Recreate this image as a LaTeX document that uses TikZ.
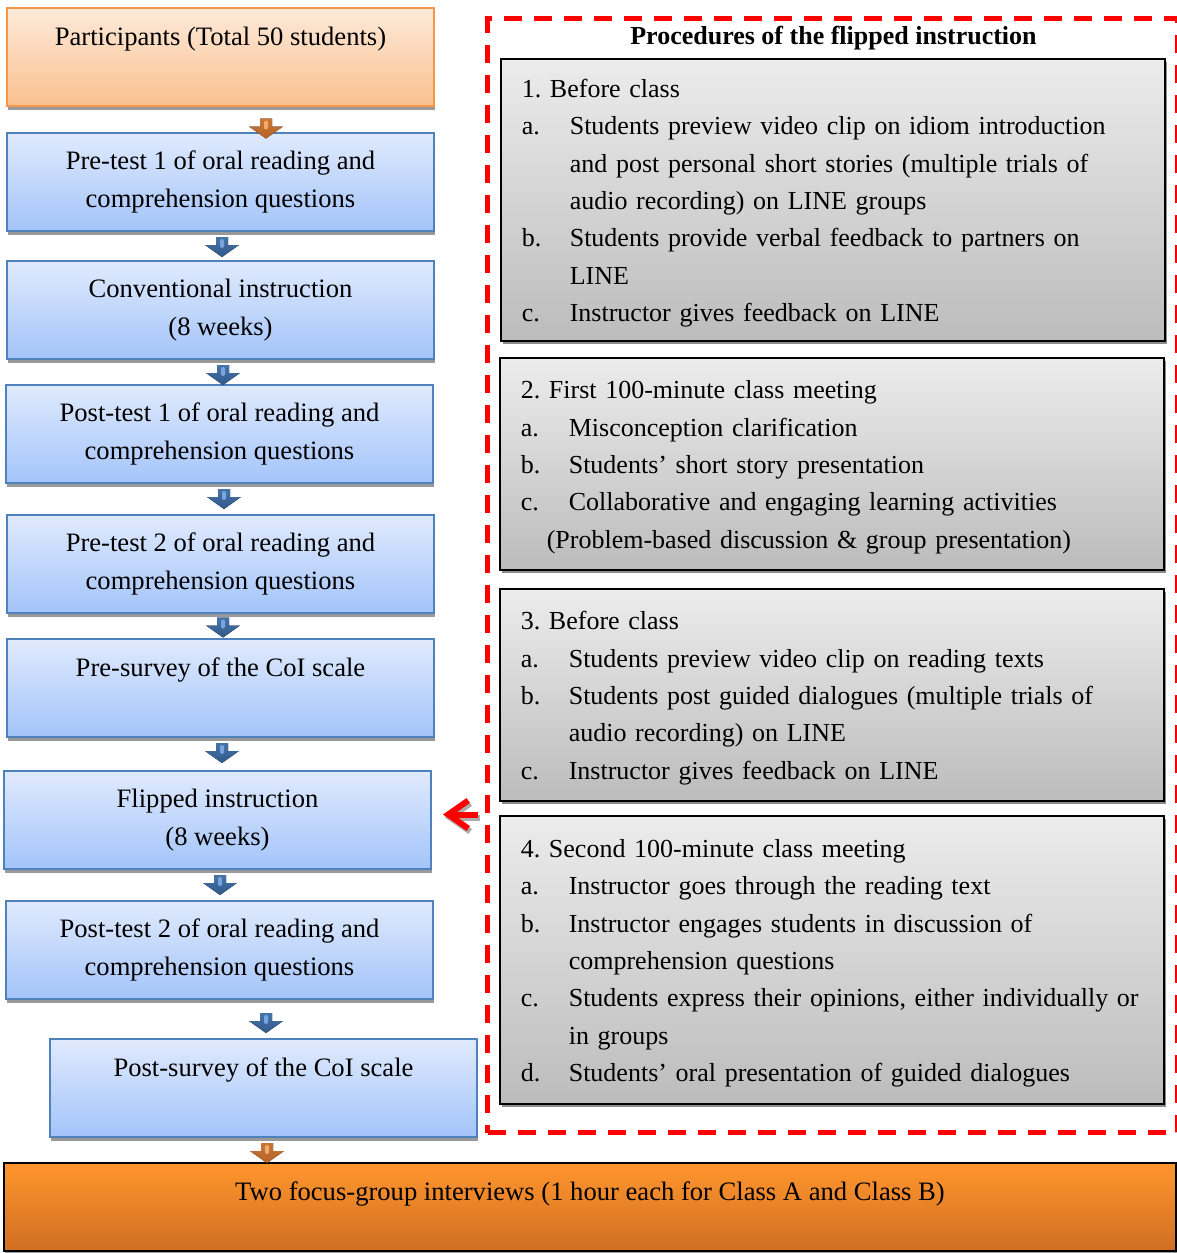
\documentclass[tikz,border=0pt]{standalone}
\usepackage{fontspec}
\setmainfont{Liberation Serif}
\usepackage{tikz}
\usetikzlibrary{arrows.meta,shapes,positioning,shadows,calc}
\frenchspacing
\definecolor{stepblue}{RGB}{79,129,189}
\definecolor{steplightblue}{RGB}{224,234,253}
\definecolor{stepmidblue}{RGB}{163,196,250}
\definecolor{steporange}{RGB}{247,150,70}
\definecolor{steplightorange}{RGB}{253,234,218}
\definecolor{stepmidorange}{RGB}{250,192,143}
\definecolor{arrowbluetop}{RGB}{70,116,170}
\definecolor{arrowbluebottom}{RGB}{50,88,138}
\definecolor{arrowbluestripe}{RGB}{120,165,225}
\definecolor{arroworangetop}{RGB}{200,118,52}
\definecolor{arroworangebottom}{RGB}{182,100,40}
\definecolor{arroworangestripe}{RGB}{240,170,110}
\definecolor{focustop}{RGB}{255,150,45}
\definecolor{focusbottom}{RGB}{208,110,35}
\definecolor{proclight}{RGB}{236,236,236}
\definecolor{procdark}{RGB}{188,188,188}
\definecolor{framered}{RGB}{255,0,0}
\newcommand{\lsize}{\fontsize{13.3}{19}\selectfont}
\newcommand{\rsize}{\fontsize{13}{18.7}\selectfont}
\newcommand{\itm}[2]{\makebox[24pt][l]{#1}\mbox{#2}}
\tikzstyle{stepbox} = [rectangle, anchor=north west, minimum width=213.5pt, minimum height=49pt, inner sep=0pt, align=center, font=\lsize, draw=stepblue, line width=1pt, top color=steplightblue, bottom color=stepmidblue, drop shadow={shadow xshift=0.5pt, shadow yshift=-2pt, fill=gray!80, opacity=1}, execute at begin node={\rule{0pt}{13pt}}]
\tikzstyle{oneline} = [text height=9pt, text depth=21pt]
\tikzstyle{procbox} = [rectangle, anchor=north west, minimum width=332pt, inner xsep=10.5pt, inner ysep=0pt, text width=311pt, align=left, font=\rsize, draw=black, line width=0.8pt, top color=proclight, bottom color=procdark, drop shadow={shadow xshift=1pt, shadow yshift=-1.5pt, fill=gray!90, opacity=1}, execute at begin node={\rule{0pt}{12.5pt}}]
\tikzstyle{framebox} = [rectangle, anchor=north west, minimum width=345pt, minimum height=557pt, draw=framered, line width=2.5pt, dash pattern=on 9pt off 6pt]
\tikzstyle{redarrow} = [framered, line width=3pt, -{Straight Barb[length=10pt, width=14pt]}]
\tikzstyle{redshadow} = [redarrow, draw=gray!65]
\tikzset{pics/flowarrow/.style={code={
  \fill[top color=arrow#1top, bottom color=arrow#1bottom] (-6,-10) -- (6,-10) -- (6,-2) -- (17,-2) -- (0,10) -- (-17,-2) -- (-6,-2) -- cycle;
  \fill[arrow#1stripe, rounded corners=1pt] (-2,-8) rectangle (2,1);
}}}

\begin{document}
\begin{tikzpicture}[x=0.5pt, y=-0.5pt]
\useasboundingbox (0,0) rectangle (1177,1253);

% Study steps
\node[stepbox, oneline, draw=steporange, top color=steplightorange, bottom color=stepmidorange] (part) at (6,7) {Participants (Total 50 students)};
\node[stepbox] (pre1) at (6,132) {Pre-test 1 of oral reading and\\comprehension questions};
\node[stepbox] (conv) at (6,260) {Conventional instruction\\(8 weeks)};
\node[stepbox] (post1) at (5,384) {Post-test 1 of oral reading and\\comprehension questions};
\node[stepbox] (pre2) at (6,514) {Pre-test 2 of oral reading and\\comprehension questions};
\node[stepbox, oneline] (presv) at (6,638) {Pre-survey of the CoI scale};
\node[stepbox] (flip) at (3,770) {Flipped instruction\\(8 weeks)};
\node[stepbox] (post2) at (5,900) {Post-test 2 of oral reading and\\comprehension questions};
\node[stepbox, oneline] (postsv) at (49,1038) {Post-survey of the CoI scale};
\node[stepbox, minimum width=586pt, minimum height=44pt, text height=9pt, text depth=16pt, draw=black, top color=focustop, bottom color=focusbottom, drop shadow={opacity=0}] (focus) at (3,1162) {Two focus-group interviews (1 hour each for Class A and Class B)};

% Block arrows between steps
\foreach \a/\b/\dx/\dy/\col in {part/pre1/45.5/9/orange, pre1/conv/1.5/1/blue, conv/post1/2.5/3/blue, post1/pre2/4.5/0/blue, pre2/presv/2.5/1.5/blue, presv/flip/1.5/-1/blue, flip/post2/2.5/0/blue, post2/postsv/46.5/4/blue, postsv/focus/3.5/3/orange}
  \pic at ($(\a.south)!0.5!(\a.south |- \b.north)+(\dx,\dy)$) {flowarrow=\col};

% Procedures
\node[framebox] (frame) at (485,16) {};
\node[font=\rsize\bfseries] (title) at ($(frame.north)+(1,22)$) {Procedures of the flipped instruction};

\node[procbox, minimum height=141pt] (before1) at (500,58) {1. Before class\\
\itm{a.}{Students preview video clip on idiom introduction}\\
\itm{}{and post personal short stories (multiple trials of}\\
\itm{}{audio recording) on LINE groups}\\
\itm{b.}{Students provide verbal feedback to partners on}\\
\itm{}{LINE}\\
\itm{c.}{Instructor gives feedback on LINE}};

\node[procbox, minimum height=106pt] (meet1) at (499,357) {2. First 100-minute class meeting\\
\itm{a.}{Misconception clarification}\\
\itm{b.}{Students' short story presentation}\\
\itm{c.}{Collaborative and engaging learning activities}\\
\hspace*{13pt}\mbox{(Problem-based discussion \& group presentation)}};

\node[procbox, minimum height=106pt] (before2) at (499,588) {3. Before class\\
\itm{a.}{Students preview video clip on reading texts}\\
\itm{b.}{Students post guided dialogues (multiple trials of}\\
\itm{}{audio recording) on LINE}\\
\itm{c.}{Instructor gives feedback on LINE}};

\node[procbox, minimum height=144pt] (meet2) at (499,815) {4. Second 100-minute class meeting\\
\itm{a.}{Instructor goes through the reading text}\\
\itm{b.}{Instructor engages students in discussion of}\\
\itm{}{comprehension questions}\\
\itm{c.}{Students express their opinions, either individually or}\\
\itm{}{in groups}\\
\itm{d.}{Students' oral presentation of guided dialogues}};

% Link to flipped instruction
\coordinate (rtail) at ([yshift=2.75pt]frame.west |- flip.east);
\draw[redshadow] ([shift={(-2.5pt,-1.5pt)}]rtail) -- ([shift={(6.5pt,-1.5pt)}]flip.east |- rtail);
\draw[redarrow] ([xshift=-3.5pt]rtail) -- ([xshift=5.5pt]flip.east |- rtail);
\end{tikzpicture}
\end{document}
